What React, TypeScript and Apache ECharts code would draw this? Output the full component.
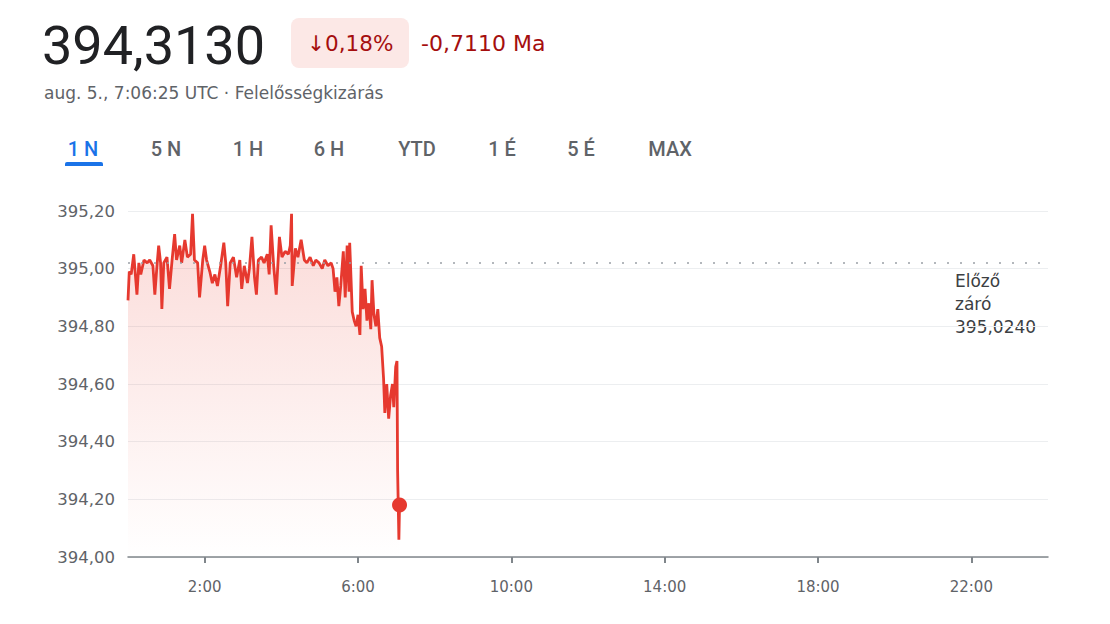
import React, { useEffect, useRef } from "react";
import * as echarts from "echarts";

// minutes after midnight (UTC) and price
const minutes = [
  0, 2, 5, 9, 14, 17, 20, 25, 30, 34, 39, 42, 45, 48, 51, 53, 56, 61, 65, 69, 73, 76, 81, 84, 89, 93, 98, 101, 104, 109,
  112, 117, 120, 123, 128, 132, 136, 140, 145, 150, 153, 156, 160, 165, 170, 175, 178, 182, 187, 190, 194, 198, 201, 204,
  209, 213, 218, 221, 224, 228, 232, 237, 241, 246, 251, 254, 256, 257, 262, 266, 271, 276, 280, 285, 290, 294, 299, 304,
  308, 313, 318, 321, 324, 327, 330, 333, 337, 340, 343, 346, 347, 351, 354, 357, 360, 363, 365, 368, 371, 374, 377, 380,
  382, 385, 388, 391, 394, 397, 400, 402, 405, 408, 411, 414, 416, 419, 421, 422, 424, 425,
];
const prices = [
  394.89, 394.99, 394.98, 395.05, 394.91, 395.02, 394.98, 395.03, 395.02, 395.03, 395.01, 394.91, 395.0, 395.08, 395.02,
  394.86, 395.02, 395.04, 394.93, 395.03, 395.12, 395.03, 395.08, 395.02, 395.1, 395.04, 395.05, 395.19, 395.03, 395.02,
  394.9, 395.03, 395.08, 395.03, 394.99, 394.95, 394.98, 394.94, 395.01, 395.09, 395.02, 394.87, 395.02, 395.04, 394.97,
  395.03, 394.93, 395.01, 394.95, 395.0, 395.11, 394.97, 394.91, 395.03, 395.04, 395.02, 395.05, 394.98, 395.15, 395.01,
  394.91, 395.11, 395.04, 395.06, 395.05, 395.08, 395.19, 394.94, 395.07, 395.04, 395.1, 395.03, 395.02, 395.04, 395.01,
  395.03, 395.02, 395.0, 395.03, 395.01, 395.02, 395.0, 394.92, 394.97, 394.87, 394.94, 395.06, 394.9, 395.08, 394.92,
  395.09, 394.85, 394.82, 394.8, 394.84, 394.77, 395.01, 394.86, 394.93, 394.82, 394.88, 394.79, 394.96, 394.84, 394.8,
  394.86, 394.76, 394.73, 394.62, 394.5, 394.6, 394.48, 394.56, 394.6, 394.52, 394.66, 394.68, 394.3, 394.06, 394.18,
];
const previousClose = 395.024;
const xTickHours = [2, 6, 10, 14, 18, 22];
const tabs = ["1 N", "5 N", "1 H", "6 H", "YTD", "1 É", "5 É", "MAX"];
const tabCenters = [83, 166, 248, 329, 417, 502, 581, 670];

const RED = "#e6392f";
const FONT = "Roboto, 'Noto Sans', sans-serif";
const WIDE = "'DejaVu Sans', sans-serif";

export default function App() {
  const ref = useRef<HTMLDivElement>(null);
  useEffect(() => {
    if (!ref.current) return;
    const chart = echarts.init(ref.current, null, { renderer: "svg" });
    const data = minutes.map((m, i) => [m / 60, prices[i]]);
    const last = data[data.length - 1];
    chart.setOption({
      animation: false,
      backgroundColor: "#ffffff",
      grid: { left: 128, right: 62, top: 211, bottom: 67 },
      xAxis: {
        type: "value",
        min: 0,
        max: 24,
        axisLine: { show: true, lineStyle: { color: "#80868b", width: 1.5 } },
        axisTick: { show: true, customValues: xTickHours, length: 6, lineStyle: { color: "#80868b", width: 2 } },
        axisLabel: {
          customValues: xTickHours,
          formatter: (v: number) => `${v}:00`,
          color: "#5f6368",
          fontSize: 15,
          fontFamily: WIDE,
          margin: 22,
        },
        splitLine: { show: false },
      },
      yAxis: {
        type: "value",
        min: 394,
        max: 395.2,
        interval: 0.2,
        axisLine: { show: false },
        axisTick: { show: false },
        axisLabel: {
          formatter: (v: number) => v.toFixed(2).replace(".", ","),
          color: "#5f6368",
          fontSize: 16.5,
          fontFamily: WIDE,
          margin: 13,
        },
        splitLine: { lineStyle: { color: "#eceef0", width: 1 } },
      },
      series: [
        {
          type: "line",
          data,
          showSymbol: false,
          lineStyle: { color: RED, width: 2.8 },
          itemStyle: { color: RED },
          areaStyle: {
            origin: "start",
            color: new echarts.graphic.LinearGradient(0, 0, 0, 1, [
              { offset: 0, color: "rgba(234, 67, 53, 0.28)" },
              { offset: 1, color: "rgba(234, 67, 53, 0.0)" },
            ]),
          },
          markLine: {
            silent: true,
            symbol: "none",
            label: { show: false },
            lineStyle: { color: "#9aa0a6", type: [2, 11], width: 1.5 },
            data: [{ yAxis: previousClose }],
          },
          z: 3,
        },
        {
          type: "scatter",
          data: [last],
          symbolSize: 15,
          itemStyle: { color: RED, opacity: 1 },
          z: 4,
        },
      ],
      graphic: [
        {
          type: "text",
          left: 42,
          top: 18,
          style: { text: "394,3130", fontSize: 54, fontFamily: FONT, fill: "#202124" },
        },
        {
          type: "rect",
          shape: { x: 291, y: 18, width: 118, height: 50, r: 8 },
          style: { fill: "#fce8e6" },
        },
        {
          type: "text",
          x: 307,
          y: 43,
          style: { text: "↓0,18%", fontSize: 21.5, fontFamily: WIDE, fill: "#a50e0e", verticalAlign: "middle" },
        },
        {
          type: "text",
          x: 421,
          y: 43,
          style: { text: "-0,7110 Ma", fontSize: 22, fontFamily: WIDE, fill: "#a50e0e", verticalAlign: "middle" },
        },
        {
          type: "text",
          x: 44,
          y: 93,
          style: {
            text: "aug. 5., 7:06:25 UTC · Felelősségkizárás",
            fontSize: 17,
            fontFamily: WIDE,
            fill: "#5f6368",
            verticalAlign: "middle",
          },
        },
        ...tabs.map((t, i) => ({
          type: "text",
          x: tabCenters[i],
          y: 149,
          style: {
            text: t,
            fontSize: 20,
            fontWeight: 500,
            fontFamily: FONT,
            fill: i === 0 ? "#1a73e8" : "#5f6368",
            align: "center",
            verticalAlign: "middle",
          },
        })),
        {
          type: "rect",
          shape: { x: 65, y: 162, width: 38, height: 4, r: [2, 2, 0, 0] },
          style: { fill: "#1a73e8" },
        },
        {
          type: "text",
          x: 955,
          y: 269,
          style: {
            text: "Előző\nzáró\n395,0240",
            fontSize: 17,
            lineHeight: 23,
            fontFamily: WIDE,
            fill: "#3c4043",
          },
        },
      ],
    });
    return () => chart.dispose();
  }, []);
  return (
    <div
      ref={ref}
      style={{ position: "fixed", left: 0, top: 0, width: 1110, height: 624, background: "#fff" }}
    />
  );
}
